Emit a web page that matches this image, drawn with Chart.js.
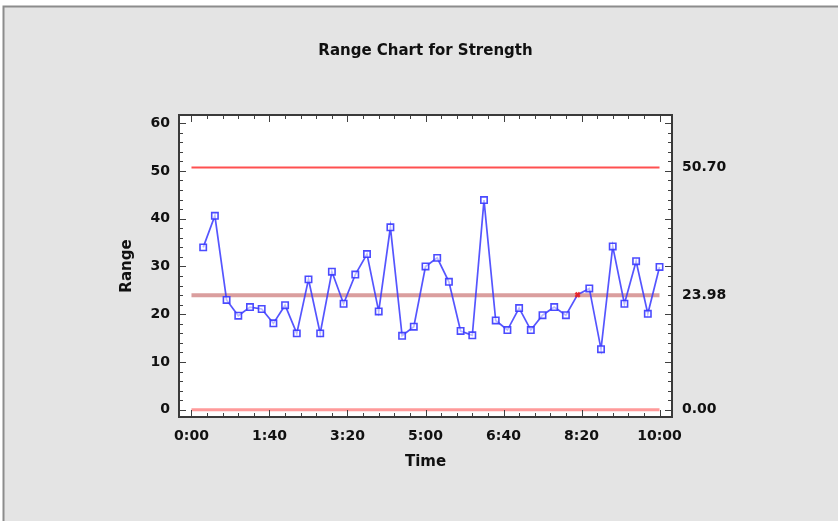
<!DOCTYPE html>
<html>
<head>
<meta charset="utf-8">
<title>Range Chart for Strength</title>
<script src="https://cdn.jsdelivr.net/npm/chart.js@4.4.1/dist/chart.umd.min.js"></script>
<style>
  html, body { margin: 0; padding: 0; background: #ffffff; }
  #wrap { width: 838px; height: 521px; position: relative; }
</style>
</head>
<body>
<div id="wrap"><canvas id="chart" width="838" height="521"></canvas></div>
<script>
// Subgroup sample times (h:mm) and the range of each subgroup
const sampleTimes = [
  '0:15', '0:30', '0:45', '1:00', '1:15', '1:30', '1:45', '2:00', '2:15', '2:30',
  '2:45', '3:00', '3:15', '3:30', '3:45', '4:00', '4:15', '4:30', '4:45', '5:00',
  '5:15', '5:30', '5:45', '6:00', '6:15', '6:30', '6:45', '7:00', '7:15', '7:30',
  '7:45', '8:00', '8:15', '8:30', '8:45', '9:00', '9:15', '9:30', '9:45', '10:00'
];
const ranges = [
  34.0, 40.6, 23.0, 19.7, 21.5, 21.1, 18.1, 21.9, 16.0, 27.3,
  16.0, 28.9, 22.2, 28.3, 32.6, 20.6, 38.2, 15.5, 17.4, 30.0,
  31.8, 26.8, 16.5, 15.6, 43.9, 18.7, 16.7, 21.3, 16.7, 19.8,
  21.5, 19.8, 24.1, 25.4, 12.7, 34.2, 22.2, 31.1, 20.1, 29.9
];
const flaggedSamples = ['8:15'];

// Control limits
const upperLimit = 50.70;
const centerLine = 23.98;
const lowerLimit = 0.00;
const limitSpan = ['0:00', '10:00'];

// Axis tick labels
const timeTickLabels = ['0:00', '1:40', '3:20', '5:00', '6:40', '8:20', '10:00'];
const rangeTickLabels = ['0', '10', '20', '30', '40', '50', '60'];

const toMinutes = s => { const [h, m] = s.split(':').map(Number); return h * 60 + m; };
const fromMinutes = v => Math.floor(v / 60) + ':' + String(Math.round(v % 60)).padStart(2, '0');

const FONT = "'DejaVu Sans', sans-serif";
const TEXT = '#101010';

const rangePoints = sampleTimes.map((t, i) => ({ x: toMinutes(t), y: ranges[i] }));
const isFlagged = sampleTimes.map(t => flaggedSamples.includes(t));
const limitLine = y => limitSpan.map(t => ({ x: toMinutes(t), y }));

const timeTicks = timeTickLabels.map(toMinutes);
const rangeTicks = rangeTickLabels.map(Number);

// Panel background, plot frame and inward tick marks
const framePlugin = {
  id: 'frame',
  beforeDraw(chart) {
    const { ctx, width, height, chartArea: a } = chart;
    ctx.save();
    ctx.fillStyle = '#ffffff';
    ctx.fillRect(0, 0, width, height);
    ctx.fillStyle = '#e4e4e4';
    ctx.fillRect(4, 7, width - 4, height - 7);
    ctx.strokeStyle = '#8c8c8c';
    ctx.lineWidth = 2;
    ctx.beginPath();
    ctx.moveTo(3.5, height);
    ctx.lineTo(3.5, 6.5);
    ctx.lineTo(width, 6.5);
    ctx.stroke();
    ctx.fillStyle = '#ffffff';
    ctx.fillRect(a.left, a.top, a.right - a.left, a.bottom - a.top);
    ctx.restore();
  },
  afterDraw(chart) {
    const { ctx, chartArea: a } = chart;
    const xs = chart.scales.x, ys = chart.scales.y;
    ctx.save();
    ctx.strokeStyle = '#404040';
    ctx.lineWidth = 1;
    ctx.beginPath();
    // horizontal axes: major every 1:40, minor every 0:20
    for (let m = timeTicks[0]; m <= timeTicks[timeTicks.length - 1]; m += 20) {
      const px = Math.round(xs.getPixelForValue(m)) + 0.5;
      const len = timeTicks.includes(m) ? 7 : 4;
      ctx.moveTo(px, a.bottom); ctx.lineTo(px, a.bottom - len);
      ctx.moveTo(px, a.top); ctx.lineTo(px, a.top + len);
    }
    // vertical axes: major every 10, minor every 2
    for (let v = rangeTicks[0]; v <= rangeTicks[rangeTicks.length - 1]; v += 2) {
      const py = Math.round(ys.getPixelForValue(v)) + 0.5;
      const len = rangeTicks.includes(v) ? 7 : 4;
      ctx.moveTo(a.left, py); ctx.lineTo(a.left + len, py);
      ctx.moveTo(a.right, py); ctx.lineTo(a.right - len, py);
    }
    ctx.stroke();
    ctx.strokeStyle = '#3a3a3a';
    ctx.lineWidth = 2;
    ctx.strokeRect(a.left, a.top, a.right - a.left, a.bottom - a.top);
    ctx.restore();
  }
};

new Chart(document.getElementById('chart'), {
  type: 'line',
  data: {
    datasets: [
      {
        label: 'Range',
        data: rangePoints,
        borderColor: 'rgba(55, 55, 255, 0.85)',
        borderWidth: 1.7,
        tension: 0,
        pointStyle: isFlagged.map(f => f ? 'crossRot' : 'rect'),
        pointRadius: isFlagged.map(f => f ? 3 : 4.5),
        pointBorderWidth: isFlagged.map(f => f ? 2.5 : 1.6),
        pointBorderColor: isFlagged.map(f => f ? 'rgba(235, 30, 30, 0.9)' : 'rgba(55, 55, 255, 0.9)'),
        pointBackgroundColor: 'rgba(255, 255, 255, 0.6)',
        yAxisID: 'y'
      },
      {
        label: 'UCL',
        data: limitLine(upperLimit),
        borderColor: 'rgb(255, 80, 80)',
        borderWidth: 2,
        pointRadius: 0,
        yAxisID: 'y'
      },
      {
        label: 'CL',
        data: limitLine(centerLine),
        borderColor: 'rgba(205, 125, 125, 0.75)',
        borderWidth: 4,
        pointRadius: 0,
        yAxisID: 'y'
      },
      {
        label: 'LCL',
        data: limitLine(lowerLimit),
        borderColor: 'rgba(255, 120, 120, 0.75)',
        borderWidth: 3,
        pointRadius: 0,
        yAxisID: 'y'
      }
    ]
  },
  options: {
    responsive: false,
    animation: false,
    events: [],
    layout: { padding: 0 },
    plugins: {
      legend: { display: false },
      tooltip: { enabled: false },
      title: {
        display: true,
        text: 'Range Chart for Strength',
        fullSize: false,
        color: TEXT,
        font: { family: FONT, size: 15, weight: 'bold', lineHeight: 1.2 },
        padding: { top: 42, bottom: 55 }
      }
    },
    scales: {
      x: {
        type: 'linear',
        position: 'bottom',
        min: -16,
        max: 616,
        afterFit: s => { s.height = 104; },
        afterBuildTicks: s => { s.ticks = timeTicks.map(v => ({ value: v })); },
        ticks: {
          color: TEXT,
          padding: 11,
          maxRotation: 0,
          autoSkip: false,
          font: { family: FONT, size: 14, weight: 'bold' },
          callback: v => timeTickLabels[timeTicks.indexOf(v)] ?? fromMinutes(v)
        },
        grid: { display: false, drawTicks: false },
        border: { display: false },
        title: {
          display: true,
          text: 'Time',
          color: TEXT,
          font: { family: FONT, size: 15, weight: 'bold', lineHeight: 1.2 },
          padding: { top: 0, bottom: 50 }
        }
      },
      y: {
        type: 'linear',
        position: 'left',
        min: -1.5,
        max: 61.7,
        afterFit: s => { s.width = 179; },
        afterBuildTicks: s => { s.ticks = rangeTicks.map(v => ({ value: v })); },
        ticks: {
          color: TEXT,
          padding: 9,
          autoSkip: false,
          font: { family: FONT, size: 14, weight: 'bold' },
          callback: v => rangeTickLabels[rangeTicks.indexOf(v)]
        },
        grid: { display: false, drawTicks: false },
        border: { display: false },
        title: {
          display: true,
          text: 'Range',
          color: TEXT,
          font: { family: FONT, size: 15, weight: 'bold', lineHeight: 1.2 },
          padding: { top: 118, bottom: 0 }
        }
      },
      limits: {
        type: 'linear',
        position: 'right',
        min: -1.5,
        max: 61.7,
        afterFit: s => { s.width = 166; },
        afterBuildTicks: s => { s.ticks = [upperLimit, centerLine, lowerLimit].map(v => ({ value: v })); },
        ticks: {
          color: TEXT,
          padding: 10,
          autoSkip: false,
          font: { family: FONT, size: 14, weight: 'bold' },
          callback: v => v.toFixed(2)
        },
        grid: { display: false, drawTicks: false },
        border: { display: false }
      }
    }
  },
  plugins: [framePlugin]
});
</script>
</body>
</html>
